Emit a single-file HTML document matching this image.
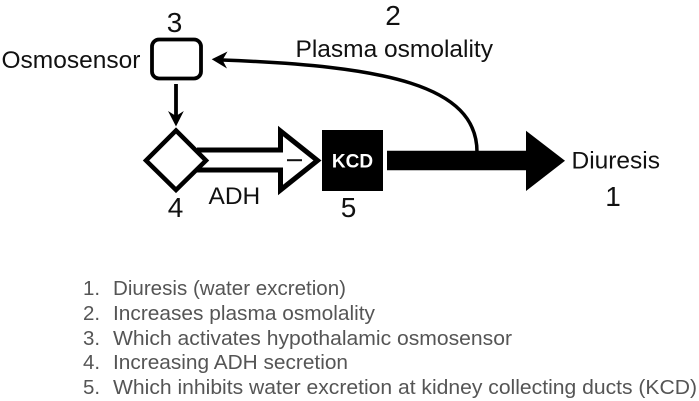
<!DOCTYPE html>
<html>
<head>
<meta charset="utf-8">
<style>
html,body{margin:0;padding:0;background:#fff;width:699px;height:401px;overflow:hidden}
svg{display:block}
text{font-family:"Liberation Sans",sans-serif}
.d{font-size:28px;fill:#111;text-anchor:middle}
.l{font-size:24.5px;fill:#111}
.g{font-size:20.5px;fill:#555}
</style>
</head>
<body>
<svg width="699" height="401" viewBox="0 0 699 401" xmlns="http://www.w3.org/2000/svg">
  <text class="d" x="174.5" y="32">3</text>
  <text class="d" x="393" y="25">2</text>
  <text class="d" x="175.5" y="217">4</text>
  <text class="d" x="348.5" y="217">5</text>
  <text class="d" x="613" y="206">1</text>

  <text class="l" x="1.5" y="68">Osmosensor</text>
  <text class="l" x="295.5" y="57" textLength="197.5" lengthAdjust="spacingAndGlyphs">Plasma osmolality</text>
  <text class="l" x="571.5" y="168.5">Diuresis</text>
  <text class="l" x="208.5" y="204">ADH</text>

  <rect x="152" y="39.5" width="49" height="39" rx="7" ry="7" fill="#fff" stroke="#000" stroke-width="3.8"/>

  <line x1="176" y1="84" x2="176" y2="118" stroke="#000" stroke-width="3.8"/>
  <path d="M168 111 L176 126.5 L183.8 111 L176 116 Z" fill="#000"/>

  <path d="M197 150 H280.5 V131 L317.5 160.5 L280.5 190 V170 H197" fill="#fff" stroke="#000" stroke-width="5"/>
  <path d="M176 130.5 L206 160.5 L176 190 L146 160.5 Z" fill="#fff" stroke="#000" stroke-width="4.5"/>
  <rect x="287" y="159.2" width="15" height="2" fill="#111"/>

  <rect x="322" y="130" width="61" height="61" fill="#000"/>
  <text x="352.5" y="167.5" font-size="19" font-weight="bold" fill="#fff" text-anchor="middle">KCD</text>

  <path d="M387 150.7 H526 V130.7 L565 160.8 L526 191 V170.3 H387 Z" fill="#000"/>

  <path d="M477 152 C477 85,385 66,222 60" fill="none" stroke="#000" stroke-width="3.5"/>
  <path d="M211.7 59.3 L227.5 51.5 L222.5 60 L227 68.5 Z" fill="#000"/>

  <text class="g" x="83" y="295">1.</text>
  <text class="g" x="113" y="295" textLength="233" lengthAdjust="spacingAndGlyphs">Diuresis (water excretion)</text>
  <text class="g" x="83" y="320">2.</text>
  <text class="g" x="113" y="320" textLength="262" lengthAdjust="spacingAndGlyphs">Increases plasma osmolality</text>
  <text class="g" x="83" y="345">3.</text>
  <text class="g" x="113" y="345" textLength="399" lengthAdjust="spacingAndGlyphs">Which activates hypothalamic osmosensor</text>
  <text class="g" x="83" y="369">4.</text>
  <text class="g" x="113" y="369" textLength="235" lengthAdjust="spacingAndGlyphs">Increasing ADH secretion</text>
  <text class="g" x="83" y="394">5.</text>
  <text class="g" x="113" y="394" textLength="584" lengthAdjust="spacingAndGlyphs">Which inhibits water excretion at kidney collecting ducts (KCD)</text>
</svg>
</body>
</html>
